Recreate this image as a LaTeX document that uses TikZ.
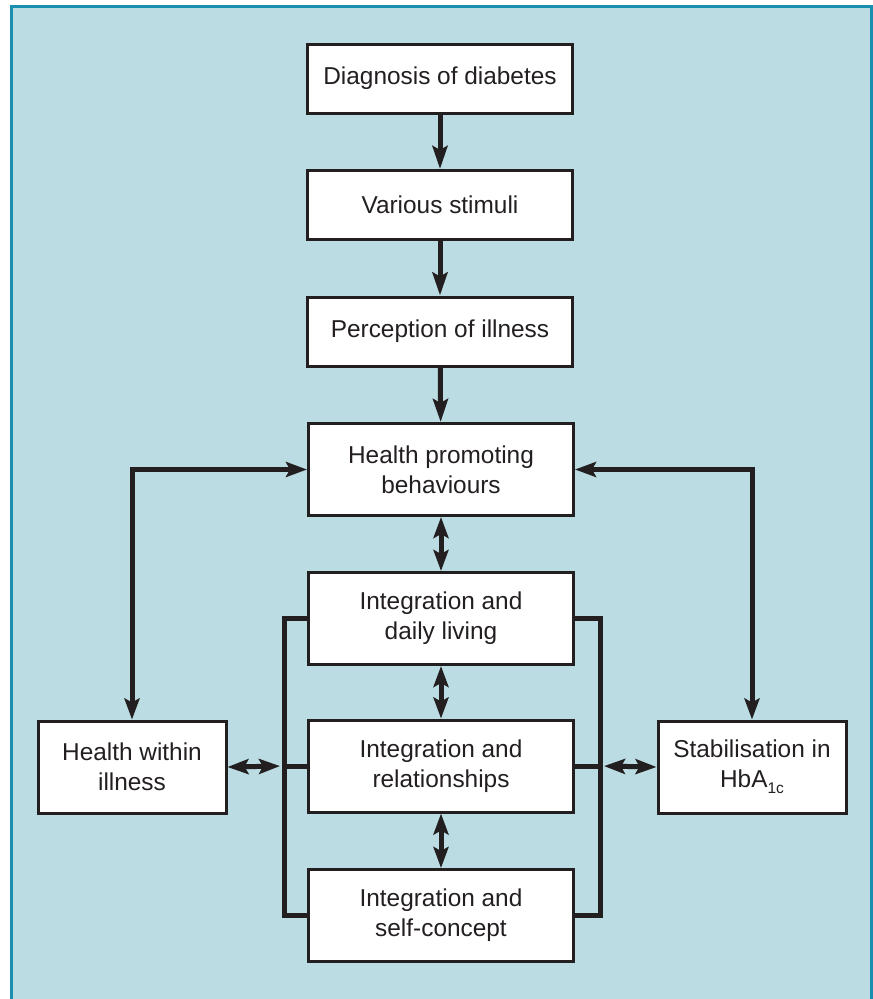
\documentclass[tikz,border=0pt]{standalone}
\usepackage{fontspec}
\setmainfont{Liberation Sans}
\usetikzlibrary{arrows.meta}
\definecolor{panelbg}{HTML}{BBDCE2}
\definecolor{panelrule}{HTML}{1A8EAE}
\definecolor{inkdark}{HTML}{231F20}
\tikzset{%
  stagebox/.style = {shape=rectangle, draw=inkdark, line width=3pt,%
                     fill=white, align=center, text=inkdark,%
                     minimum width=265pt, minimum height=92pt,%
                     font=\fontsize{24.4}{30}\selectfont},%
  single/.style   = {stagebox, minimum height=69pt},%
  side/.style     = {stagebox, minimum width=188pt},%
  flow/.style     = {draw=inkdark, line width=5pt,%
                     -{Stealth[length=23pt,width=15pt,inset=4pt]}},%
  twoway/.style   = {draw=inkdark, line width=5pt,%
                     {Stealth[length=21pt,width=15pt,inset=4pt]}-{Stealth[length=21pt,width=15pt,inset=4pt]}},%
  bracket/.style  = {draw=inkdark, line width=5pt, line join=miter}%
}
\begin{document}
\begin{tikzpicture}[x=1pt,y=-1pt]
	\useasboundingbox (0,0) rectangle (873,999);
	\fill[panelbg] (10,5) rectangle (873,999);
	\draw[panelrule, line width=3pt] (11.5,999) -- (11.5,6.5) -- (871.5,6.5) -- (871.5,999);
	% stages
	\node[single]   (diag)    at (440,78.5)  {Diagnosis of diabetes};
	\node[single]   (stimuli) at (440,205)   {Various stimuli};
	\node[single]   (percep)  at (440,331.5) {Perception of illness};
	\node[stagebox] (hpb)     at (441,469.5) {Health promoting\\behaviours};
	\node[stagebox] (daily)   at (441,618.5) {Integration and\\daily living};
	\node[stagebox] (relat)   at (441,766)   {Integration and\\relationships};
	\node[stagebox] (selfc)   at (441,915.5) {Integration and\\self-concept};
	\node[side]     (hwi)     at (132,767)   {Health within\\illness};
	\node[side]     (stab)    at (752,767)   {Stabilisation in\\HbA\raisebox{-6pt}{\fontsize{15.5}{15.5}\selectfont 1c}};
	\coordinate (lbar) at (284,766);
	\coordinate (rbar) at (600,766);
	% connectors
	\draw[flow] (diag) -- (stimuli);
	\draw[flow] (stimuli) -- (percep);
	\draw[flow] (percep) -- (hpb);
	\draw[twoway] (hpb) -- (daily);
	\draw[twoway] (daily) -- (relat);
	\draw[twoway] (relat) -- (selfc);
	\draw[twoway] (hpb.west) -| (hwi.north);
	\draw[twoway] (hpb.east) -| (stab.north);
	\draw[bracket] (daily.west) -| (lbar) |- (selfc.west);
	\draw[bracket] (relat.west) -- (lbar);
	\draw[bracket] (daily.east) -| (rbar) |- (selfc.east);
	\draw[bracket] (relat.east) -- (rbar);
	\draw[twoway, shorten >=4pt] (hwi.east) -- (lbar);
	\draw[twoway, shorten <=4pt] (rbar) -- (stab.west);
\end{tikzpicture}
\end{document}
